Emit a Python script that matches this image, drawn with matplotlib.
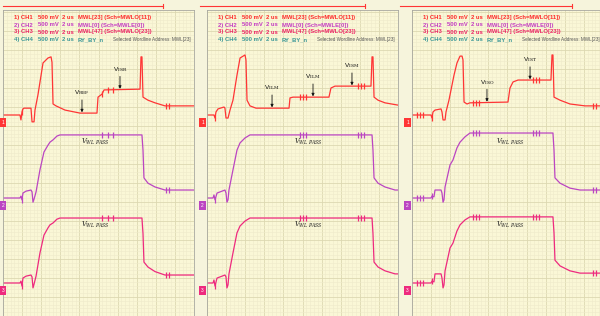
import numpy as np
import matplotlib.pyplot as plt
from matplotlib.ticker import MultipleLocator
from matplotlib.transforms import blended_transform_factory

plt.rcParams['font.family'] = ['Liberation Sans', 'DejaVu Sans']
plt.rcParams['mathtext.fontset'] = 'dejavuserif'

# time in us (2 us/div), level in V above each channel's ground (500 mV/div)
# panel 1
p1_ch1_t = [0, 1.78, 1.88, 1.99, 2.09, 2.2, 2.93, 3.04, 3.25, 3.35, 3.66, 4.19, 4.71, 5.03, 5.13, 5.24,
            5.55, 6.49, 8.06, 9.84, 9.95, 10.37, 10.58, 14.35, 14.45, 14.55, 14.66, 15.18, 15.92, 16.96, 20.0]
p1_ch1_v = [0, 0, -0.13, 0.08, 0.16, 0.18, 0.18, -0.18, -0.18, 0.13, 0.53, 1.37, 1.5, 1.53, 1.39, 0.29,
            0.24, 0.13, 0.05, 0.05, 0.47, 0.55, 0.66, 0.68, 1.53, 1.53, 0.47, 0.39, 0.32, 0.24, 0.24]
p1_ch2_t = [0, 1.78, 1.88, 1.99, 2.09, 2.41, 2.93, 3.04, 3.14, 3.25, 3.46, 3.87, 4.29, 4.71, 4.92, 5.24,
            5.65, 5.97, 14.55, 14.66, 14.76, 15.18, 15.92, 16.96, 20.0]
p1_ch2_v = [0, 0, 0.05, -0.05, 0.13, 0.18, 0.21, 0.16, -0.11, -0.03, 0.16, 0.74, 1.21, 1.39, 1.47, 1.53,
            1.63, 1.66, 1.66, 1.26, 0.53, 0.39, 0.29, 0.21, 0.21]
p1_ch3_v = [0, 0, 0.05, -0.08, 0.13, 0.18, 0.21, 0.16, -0.13, -0.03, 0.18, 0.79, 1.26, 1.45, 1.53, 1.58,
            1.68, 1.71, 1.71, 1.3, 0.55, 0.42, 0.3, 0.21, 0.21]
p1_glitch_t = [1.99, 10.37, 11.0, 11.52, 17.07, 17.38]

# panel 2
p2_ch1_t = [0, 0.73, 0.84, 0.94, 1.15, 1.78, 1.88, 1.99, 2.2, 2.41, 2.72, 3.14, 3.46, 3.98, 4.08, 4.19,
            4.5, 5.13, 6.6, 8.59, 8.69, 9.01, 12.77, 12.98, 13.4, 17.17, 17.28, 17.38, 17.49, 17.91, 18.64, 20.0]
p2_ch1_v = [0, 0, -0.08, 0.08, 0.16, 0.21, 0.18, -0.08, -0.08, 0.13, 0.39, 1.05, 1.5, 1.58, 1.45, 0.39,
            0.24, 0.18, 0.18, 0.18, 0.45, 0.47, 0.47, 0.71, 0.76, 0.76, 1.53, 1.53, 0.47, 0.39, 0.32, 0.26]
p2_ch2_t = [0, 0.63, 0.73, 0.84, 1.05, 1.57, 1.88, 1.99, 2.09, 2.2, 2.3, 2.72, 3.14, 3.46, 3.98, 4.5,
            17.28, 17.38, 17.49, 17.91, 18.64, 19.69, 20.0]
p2_ch2_v = [0, 0, 0.08, -0.05, 0.13, 0.18, 0.21, 0.13, -0.11, -0.05, 0.21, 0.74, 1.26, 1.45, 1.58, 1.66,
            1.66, 1.26, 0.53, 0.39, 0.29, 0.21, 0.21]
p2_ch3_v = [0, 0, 0.08, -0.08, 0.13, 0.18, 0.21, 0.16, -0.13, -0.05, 0.24, 0.79, 1.32, 1.5, 1.63, 1.71,
            1.71, 1.3, 0.55, 0.42, 0.32, 0.24, 0.24]
p2_glitch_t = [0.84, 9.74, 10.05, 10.37, 15.81, 16.13, 16.44]

# panel 3
p3_ch1_t = [0, 1.99, 2.09, 2.2, 2.41, 3.04, 3.14, 3.25, 3.46, 3.56, 3.87, 4.4, 4.71, 5.03, 5.24, 5.34,
            5.45, 5.76, 6.07, 10.05, 10.26, 10.58, 11.1, 14.55, 14.66, 14.76, 14.87, 15.5, 16.54, 18.12, 20.0]
p3_ch1_v = [0, 0, -0.08, 0.08, 0.13, 0.16, 0.08, -0.13, -0.13, 0.08, 0.39, 1.05, 1.37, 1.55, 1.55, 1.45,
            0.34, 0.29, 0.32, 0.34, 0.71, 0.87, 0.92, 0.92, 1.58, 1.58, 0.47, 0.39, 0.29, 0.24, 0.24]
p3_ch2_t = [0, 1.99, 2.09, 2.3, 2.41, 3.04, 3.14, 3.25, 3.35, 3.46, 3.98, 4.29, 4.71, 5.03, 5.55, 6.07,
            14.76, 14.87, 14.97, 15.5, 16.54, 17.59, 20.0]
p3_ch2_v = [0, 0, 0.05, 0.03, 0.21, 0.21, 0.13, -0.11, -0.05, 0.29, 0.87, 1.0, 1.32, 1.47, 1.61, 1.71,
            1.71, 1.26, 0.53, 0.39, 0.26, 0.21, 0.21]
p3_ch3_v = [0, 0, 0.05, 0.03, 0.24, 0.24, 0.13, -0.13, -0.05, 0.32, 0.92, 1.05, 1.37, 1.53, 1.66, 1.74,
            1.74, 1.32, 0.6, 0.45, 0.32, 0.26, 0.26]
p3_glitch_t = [0.52, 0.84, 1.15, 2.09, 6.39, 6.7, 7.02, 12.67, 12.98, 13.3, 18.95, 19.27]

# header / labels
header_ch = ["1) CH1", "2) CH2", "3) CH3", "4) CH4"]
header_scale = ["500 mV", "500 mV", "500 mV", "500 mV"]
header_time = ["2 us", "2 us", "2 us", "2 us"]
header_sig = ["MWL[23] (Sch=MWLO[11])", "MWL[0] (Sch=MWLE[0])", "MWL[47] (Sch=MWLO[23])", "RY_BY_n"]
selected_text = "Selected Wordline Address: MWL[23]"

level_labels = [[r"V$_{\mathrm{REF}}$", r"V$_{\mathrm{ISR}}$"],
                [r"V$_{\mathrm{ILM}}$", r"V$_{\mathrm{ILM}}$", r"V$_{\mathrm{ISM}}$"],
                [r"V$_{\mathrm{ISO}}$", r"V$_{\mathrm{IST}}$"]]
level_times = [[8.27, 12.25], [6.81, 11.1, 15.18], [7.85, 12.36]]
pass_label = r"$V_{WL\ PASS}$"
pass_times = [9.63, 10.58, 10.26]
ruler_start = [0.0, -0.73, -1.25]
ruler_end = [16.75, 16.5, 16.75]

panels = [
    (p1_ch1_t, p1_ch1_v, p1_ch2_t, p1_ch2_v, p1_ch3_v, p1_glitch_t),
    (p2_ch1_t, p2_ch1_v, p2_ch2_t, p2_ch2_v, p2_ch3_v, p2_glitch_t),
    (p3_ch1_t, p3_ch1_v, p3_ch2_t, p3_ch2_v, p3_ch3_v, p3_glitch_t),
]

# layout in pixels
W, H = 600, 316
panel_left = [3, 207, 412]
panel_w = 191
top = 10
px_per_v = 38.0
ytop = (H - top) / px_per_v
grounds = [(H - 115) / px_per_v, (H - 198) / px_per_v, (H - 283) / px_per_v]

c_red = '#ff3535'
c_purple = '#bb45c2'
c_pink = '#ee2a7e'
c_teal = '#3c9898'
txt_colors = ['#ff2b2b', '#c43cc4', '#ee2266', c_teal]
bg = '#faf7d6'

fig = plt.figure(figsize=(6, 3.16), dpi=100, facecolor='#f6f4dc')

for i, (c1t, c1v, c2t, c2v, c3v, gl) in enumerate(panels):
    ax = fig.add_axes([panel_left[i] / W, 0, panel_w / W, (H - top) / H])
    ax.set_facecolor(bg)
    ax.set_xlim(0, 20)
    ax.set_ylim(0, ytop)
    ax.xaxis.set_major_locator(MultipleLocator(2))
    ax.xaxis.set_minor_locator(MultipleLocator(0.4))
    ax.yaxis.set_major_locator(MultipleLocator(0.5))
    ax.yaxis.set_minor_locator(MultipleLocator(0.1))
    ax.grid(which='minor', color='#eeeacb', lw=0.4)
    ax.grid(which='major', color='#ddd8b2', lw=0.6)
    ax.tick_params(which='both', length=0, labelbottom=False, labelleft=False)
    ax.set_axisbelow(True)
    for s in ax.spines.values():
        s.set_color('#a8a8a0')
        s.set_linewidth(0.6)

    traces = [(c1t, c1v, c_red, grounds[0]),
              (c2t, c2v, c_purple, grounds[1]),
              (c2t, c3v, c_pink, grounds[2])]
    for t, v, col, g in traces:
        yv = np.array(v) + g
        ax.plot(t, yv, color=col, lw=0.9, solid_joinstyle='round')
        ax.plot(gl, np.interp(gl, t, yv), '|', color=col, ms=5, mew=0.9)

    # V level arrows on CH1
    for t, lab in zip(level_times[i], level_labels[i]):
        y = np.interp(t, c1t, c1v) + grounds[0]
        ax.annotate(lab, xy=(t, y + 0.02), xytext=(t, y + 0.42), ha='center', va='bottom',
                    fontsize=4.6, color='#111111',
                    arrowprops=dict(arrowstyle='-|>', color='#111111', lw=0.6,
                                    mutation_scale=4, shrinkA=0, shrinkB=0))

    # V_WL PASS labels
    ax.text(pass_times[i], grounds[1] + 1.47, pass_label, ha='center', va='center',
            fontsize=4.8, color='#222222')
    ax.text(pass_times[i], grounds[2] + 1.53, pass_label, ha='center', va='center',
            fontsize=4.8, color='#222222')

    # header block
    ys = [17.5, 25, 32, 39.5]
    cols = [11, 35, 59, 75]
    for k in range(4):
        yf = 1 - (ys[k] - top) / (H - top)
        for xc, s in zip(cols, [header_ch[k], header_scale[k], header_time[k], header_sig[k]]):
            ax.text(xc / panel_w, yf, s, transform=ax.transAxes, ha='left', va='center',
                    fontsize=4.2, fontweight='bold', color=txt_colors[k])
    ax.text(110 / panel_w, 1 - (39.5 - top) / (H - top), selected_text, transform=ax.transAxes,
            ha='left', va='center', fontsize=3.3, color='#555555', clip_on=False)

    # trigger ruler above the grid
    tr = blended_transform_factory(ax.transData, ax.transAxes)
    yr = 1 + 4 / (H - top)
    ax.plot([ruler_start[i], ruler_end[i]], [yr, yr], color=c_red, lw=0.8,
            transform=tr, clip_on=False)
    ax.plot([ruler_end[i]] * 2, [yr - 0.008, yr + 0.008], color=c_red, lw=0.8,
            transform=tr, clip_on=False)

    # channel ground markers
    bx = 0.0 if i == 0 else -4.5 / panel_w
    tb = blended_transform_factory(ax.transAxes, ax.transData)
    for lab, col, g in zip(["1", "2", "3"], [c_red, c_purple, c_pink], grounds):
        ax.text(bx, g - 0.2, lab, transform=tb, ha='center', va='center', fontsize=3.5,
                color='white', clip_on=False,
                bbox=dict(boxstyle='square,pad=0.35', fc=col, ec='none'))

fig.savefig('out.png', dpi=100, facecolor=fig.get_facecolor())
